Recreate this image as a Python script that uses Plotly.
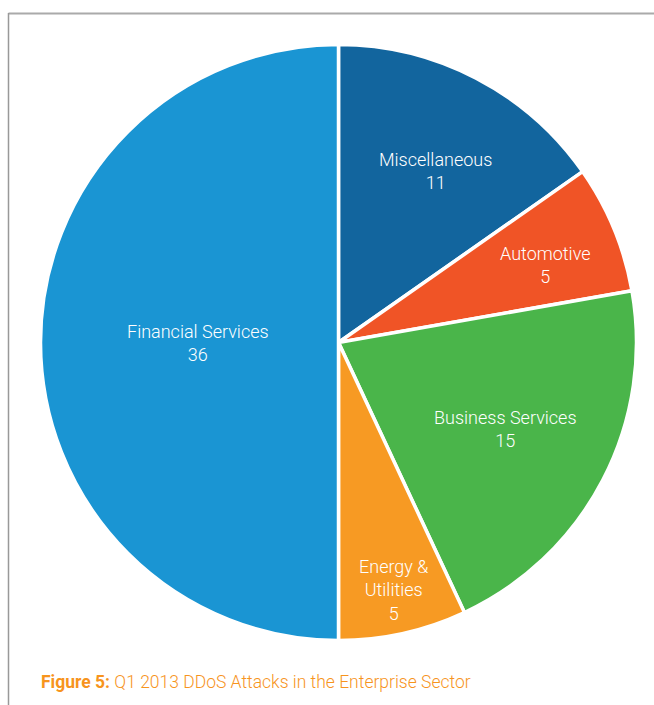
import math
import plotly.graph_objects as go

# Enterprise-sector DDoS attack counts, Q1 2013 (clockwise from 12 o'clock)
sectors = ["Miscellaneous", "Automotive", "Business Services", "Energy &<br>Utilities", "Financial Services"]
attacks = [11, 5, 15, 5, 36]
colors = ["#12659e", "#f05426", "#4ab54a", "#f79a23", "#1a95d3"]

# label placement: fraction of the pie radius and a small angular nudge (degrees)
label_radius = [0.66, 0.74, 0.63, 0.85, 0.47]
label_nudge = [2.0, 2.0, 0.0, 0.0, 0.0]

W, H = 654, 705
cx, cy, R = 338.5, 342.5, 298.0

fig = go.Figure()
fig.add_trace(go.Pie(
    labels=sectors,
    values=attacks,
    sort=False,
    direction="clockwise",
    rotation=0,
    marker=dict(colors=colors, line=dict(color="white", width=3.5)),
    textinfo="none",
    hoverinfo="label+value",
    showlegend=False,
    domain=dict(x=[(cx - R) / W, (cx + R) / W], y=[1 - (cy + R) / H, 1 - (cy - R) / H]),
))

label_font = dict(family="Roboto, Open Sans, sans-serif", size=18, color="white", weight=300)
total = sum(attacks)
cum = 0
annotations = []
for name, v, frac, nudge in zip(sectors, attacks, label_radius, label_nudge):
    mid = (cum + v / 2) / total * 2 * math.pi + math.radians(nudge)
    cum += v
    px = cx + frac * R * math.sin(mid)
    py = cy - frac * R * math.cos(mid)
    annotations.append(dict(
        x=px / W, y=1 - py / H, xref="paper", yref="paper",
        text=f"{name}<br>{v}", showarrow=False, font=label_font,
        xanchor="center", yanchor="middle", align="center",
    ))

annotations.append(dict(
    x=39 / W, y=1 - 682 / H, xref="paper", yref="paper",
    text="<b>Figure 5:</b> Q1 2013 DDoS Attacks in the Enterprise Sector",
    showarrow=False, xanchor="left", yanchor="middle",
    font=dict(family="Roboto, Open Sans, sans-serif", size=17.5, color="#f7941d", weight=300),
))

shapes = [
    dict(type="line", xref="paper", yref="paper", x0=8.5 / W, x1=1, y0=1 - 13.5 / H, y1=1 - 13.5 / H,
         line=dict(color="#aaaaaa", width=2)),
    dict(type="line", xref="paper", yref="paper", x0=8.5 / W, x1=8.5 / W, y0=0, y1=1 - 13 / H,
         line=dict(color="#999999", width=1.5)),
]

fig.update_layout(
    width=W, height=H,
    margin=dict(l=0, r=0, t=0, b=0),
    paper_bgcolor="white", plot_bgcolor="white",
    annotations=annotations, shapes=shapes,
)

fig.write_html("out.html")
